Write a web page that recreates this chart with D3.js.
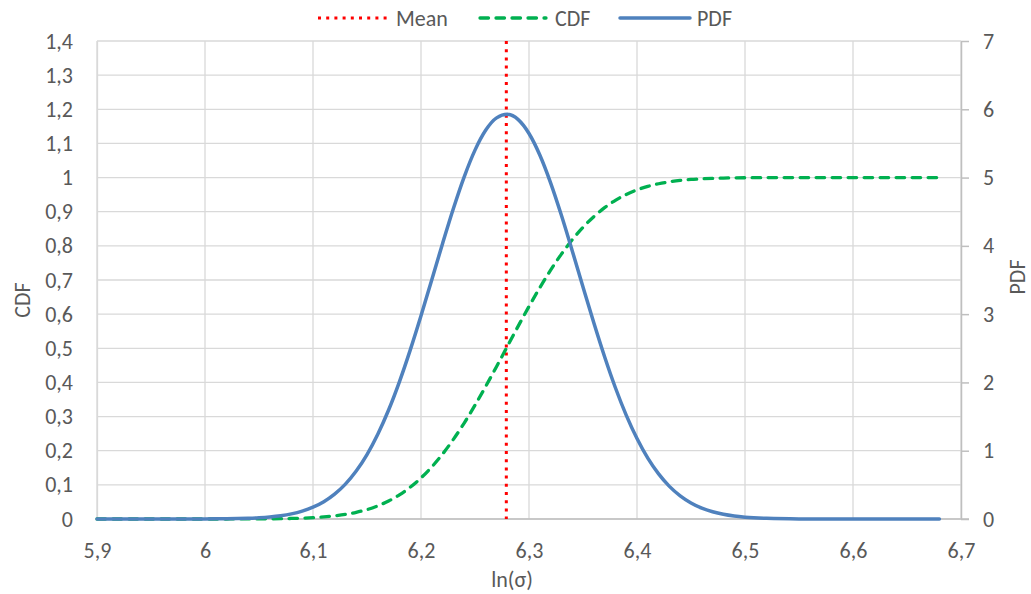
<!DOCTYPE html>
<html>
<head>
<meta charset="utf-8">
<script src="https://cdn.jsdelivr.net/npm/d3@7"></script>
<style>
  body { margin: 0; background: #fff; }
  text { font-family: Carlito, Lato, "Open Sans", sans-serif; fill: #595959; }
</style>
</head>
<body>
<svg id="chart" width="1031" height="594"></svg>
<script>
// ln(sigma) sample points
const xValues = [5.90, 5.95, 6.00, 6.01, 6.02, 6.03, 6.04, 6.05, 6.06, 6.07, 6.08, 6.09,
  6.10, 6.11, 6.12, 6.13, 6.14, 6.15, 6.16, 6.17, 6.18, 6.19,
  6.20, 6.21, 6.22, 6.23, 6.24, 6.25, 6.26, 6.27, 6.28, 6.29,
  6.30, 6.31, 6.32, 6.33, 6.34, 6.35, 6.36, 6.37, 6.38, 6.39,
  6.40, 6.41, 6.42, 6.43, 6.44, 6.45, 6.46, 6.47, 6.48, 6.49,
  6.50, 6.52, 6.55, 6.60, 6.65, 6.68];

// cumulative distribution (left axis)
const cdfValues = [0, 0, 0.00002, 0.00003, 0.00006, 0.00011, 0.00019, 0.00033, 0.00057, 0.00095, 0.00155, 0.00249,
  0.00391, 0.00602, 0.00907, 0.0134, 0.0195, 0.0276, 0.0385, 0.0526, 0.0707, 0.0931,
  0.1202, 0.1527, 0.1903, 0.2333, 0.2811, 0.3333, 0.3889, 0.4468, 0.5059, 0.5649,
  0.6225, 0.6775, 0.7288, 0.7757, 0.8176, 0.8543, 0.8856, 0.9118, 0.9333, 0.9505,
  0.9639, 0.9742, 0.9819, 0.9876, 0.9916, 0.9945, 0.9964, 0.9977, 0.9986, 0.9991,
  0.9995, 0.9999, 1, 1, 1, 1];

// probability density (right axis)
const pdfValues = [0, 0, 0.0011, 0.0020, 0.0036, 0.0063, 0.0108, 0.0181, 0.0298, 0.0477, 0.0748, 0.115,
  0.1725, 0.253, 0.364, 0.511, 0.702, 0.944, 1.242, 1.596, 2.009, 2.473,
  2.976, 3.505, 4.036, 4.547, 5.011, 5.402, 5.696, 5.874, 5.926, 5.848,
  5.645, 5.330, 4.923, 4.448, 3.930, 3.397, 2.873, 2.376, 1.922, 1.521,
  1.178, 0.891, 0.660, 0.478, 0.339, 0.235, 0.159, 0.106, 0.0686, 0.0435,
  0.0270, 0.0097, 0.0018, 0.0001, 0, 0];

const meanValue = 6.279;

const xTicks = [5.9, 6.0, 6.1, 6.2, 6.3, 6.4, 6.5, 6.6, 6.7];
const cdfTicks = [0, 0.1, 0.2, 0.3, 0.4, 0.5, 0.6, 0.7, 0.8, 0.9, 1.0, 1.1, 1.2, 1.3, 1.4];
const pdfTicks = [0, 1, 2, 3, 4, 5, 6, 7];

const seriesNames = ["Mean", "CDF", "PDF"];

const svg = d3.select("#chart");
const plot = { left: 97, right: 961, top: 41, bottom: 519 };

const locale = d3.formatLocale({ decimal: ",", thousands: ".", grouping: [3], currency: ["", ""] });
const fmt = locale.format(".1~f");

const x = d3.scaleLinear().domain([5.9, 6.7]).range([plot.left, plot.right]);
const yCdf = d3.scaleLinear().domain([0, 1.4]).range([plot.bottom, plot.top]);
const yPdf = d3.scaleLinear().domain([0, 7]).range([plot.bottom, plot.top]);

const gridColor = "#d9d9d9";
const axisColor = "#bfbfbf";
const fontSize = 22;

// gridlines
svg.append("g").selectAll("line").data(cdfTicks).join("line")
  .attr("x1", plot.left).attr("x2", plot.right)
  .attr("y1", d => yCdf(d)).attr("y2", d => yCdf(d))
  .attr("stroke", gridColor).attr("stroke-width", 1.3);
svg.append("g").selectAll("line").data(xTicks).join("line")
  .attr("x1", d => x(d)).attr("x2", d => x(d))
  .attr("y1", plot.top).attr("y2", plot.bottom)
  .attr("stroke", gridColor).attr("stroke-width", 1.3);

// left axis (CDF)
const leftAxis = svg.append("g").attr("transform", `translate(${plot.left},0)`)
  .call(d3.axisLeft(yCdf).tickValues(cdfTicks).tickFormat(fmt).tickSize(0).tickPadding(24));
leftAxis.select(".domain").attr("stroke", gridColor).attr("stroke-width", 1.3);
leftAxis.selectAll("text").style("font-size", fontSize + "px").attr("fill", "#595959");

// right axis (PDF)
const rightAxis = svg.append("g").attr("transform", `translate(${plot.right},0)`)
  .call(d3.axisRight(yPdf).tickValues(pdfTicks).tickFormat(d3.format("d")).tickSize(8).tickSizeOuter(0).tickPadding(14));
rightAxis.select(".domain").attr("stroke", axisColor).attr("stroke-width", 1.5);
rightAxis.selectAll(".tick line").attr("stroke", axisColor).attr("stroke-width", 1.5);
rightAxis.selectAll("text").style("font-size", fontSize + "px").attr("fill", "#595959");

// bottom axis
const bottomAxis = svg.append("g").attr("transform", `translate(0,${plot.bottom})`)
  .call(d3.axisBottom(x).tickValues(xTicks).tickFormat(fmt).tickSize(0).tickSizeOuter(0).tickPadding(23));
bottomAxis.select(".domain").attr("stroke", axisColor).attr("stroke-width", 1.5)
  .attr("d", `M${plot.left},0H${plot.right + 8}`);
bottomAxis.selectAll("text").style("font-size", fontSize + "px").attr("fill", "#595959");

// axis titles
svg.append("text").attr("x", 512).attr("y", 587).attr("text-anchor", "middle")
  .style("font-size", fontSize + "px").text("ln(σ)");
svg.append("text").attr("transform", "translate(30,300) rotate(-90)").attr("text-anchor", "middle")
  .style("font-size", fontSize + "px").text("CDF");
svg.append("text").attr("transform", "translate(1025,277) rotate(-90)").attr("text-anchor", "middle")
  .style("font-size", fontSize + "px").text("PDF");

// series
const meanStyle = { color: "#ff0000", width: 3, dash: "3 5.2", cap: "butt" };
const cdfStyle = { color: "#00b050", width: 3.3, dash: "8.5 7.5", cap: "round" };
const pdfStyle = { color: "#4f81bd", width: 3.5, dash: null, cap: "round" };

svg.append("line")
  .attr("x1", x(meanValue)).attr("x2", x(meanValue))
  .attr("y1", yCdf(1.4)).attr("y2", yCdf(0))
  .attr("stroke", meanStyle.color).attr("stroke-width", meanStyle.width)
  .attr("stroke-dasharray", meanStyle.dash);

const cdfLine = d3.line().x((d, i) => x(xValues[i])).y(d => yCdf(d)).curve(d3.curveMonotoneX);
svg.append("path").datum(cdfValues).attr("d", cdfLine)
  .attr("fill", "none").attr("stroke", cdfStyle.color).attr("stroke-width", cdfStyle.width)
  .attr("stroke-dasharray", cdfStyle.dash).attr("stroke-linecap", cdfStyle.cap);

const pdfLine = d3.line().x((d, i) => x(xValues[i])).y(d => yPdf(d)).curve(d3.curveMonotoneX);
svg.append("path").datum(pdfValues).attr("d", pdfLine)
  .attr("fill", "none").attr("stroke", pdfStyle.color).attr("stroke-width", pdfStyle.width)
  .attr("stroke-linecap", pdfStyle.cap).attr("stroke-linejoin", "round");

// legend
const legendItems = [
  { name: seriesNames[0], style: meanStyle, x0: 318, x1: 388, tx: 396 },
  { name: seriesNames[1], style: cdfStyle, x0: 480, x1: 546, tx: 555 },
  { name: seriesNames[2], style: pdfStyle, x0: 620, x1: 690, tx: 697 }
];
const legend = svg.append("g");
legendItems.forEach(it => {
  legend.append("line").attr("x1", it.x0).attr("x2", it.x1).attr("y1", 18).attr("y2", 18)
    .attr("stroke", it.style.color).attr("stroke-width", it.style.width)
    .attr("stroke-dasharray", it.style.dash).attr("stroke-linecap", it.style.cap);
  legend.append("text").attr("x", it.tx).attr("y", 26).style("font-size", fontSize + "px").text(it.name);
});
</script>
</body>
</html>
